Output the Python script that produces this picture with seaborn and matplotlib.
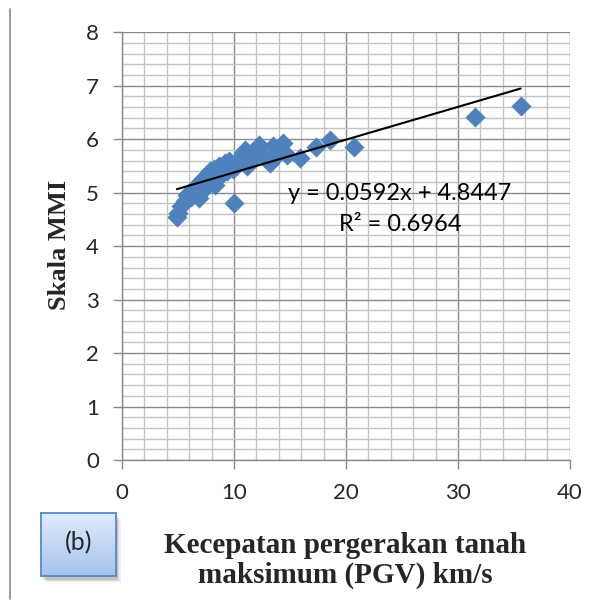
import numpy as np
import pandas as pd
import matplotlib
matplotlib.use("Agg")
import matplotlib.pyplot as plt
from matplotlib.patches import Rectangle
from matplotlib.lines import Line2D
import seaborn as sns

pgv = [4.9, 5.0, 5.3, 5.6, 5.8, 6.0, 6.2, 6.4, 6.6, 6.8, 6.9, 7.0, 7.2, 7.4, 7.5,
       7.7, 7.9, 8.0, 8.2, 8.3, 8.5, 8.7, 8.9, 9.0, 9.2, 9.4, 9.6, 9.9, 10.0, 10.2,
       10.5, 10.8, 11.0, 11.2, 11.5, 11.8, 12.2, 12.5, 13.0, 13.2, 13.5, 14.0, 14.4,
       14.7, 15.9, 17.3, 18.6, 20.7, 31.5, 35.6]
mmi = [4.55, 4.62, 4.75, 4.85, 4.95, 5.00, 4.92, 5.05, 5.12, 5.00, 4.90, 5.20, 5.25, 5.30, 5.10,
       5.35, 5.40, 5.20, 5.45, 5.15, 5.30, 5.50, 5.35, 5.50, 5.55, 5.40, 5.60, 5.45, 4.80, 5.50,
       5.65, 5.75, 5.80, 5.50, 5.60, 5.70, 5.90, 5.70, 5.60, 5.55, 5.88, 5.75, 5.92,
       5.70, 5.64, 5.86, 5.98, 5.86, 6.42, 6.62]
x_ticks = [0, 10, 20, 30, 40]
y_ticks = [0, 1, 2, 3, 4, 5, 6, 7, 8]
eq_text = "y = 0.0592x + 4.8447"
r2_text = "R² = 0.6964"

df = pd.DataFrame({"PGV": pgv, "MMI": mmi})

sns.set_theme(style="white")
plt.rcParams["font.family"] = ["Lato", "DejaVu Sans"]

fig = plt.figure(figsize=(5.98, 6.08), dpi=100)
ax = fig.add_axes([0.204, 0.2434, 0.749, 0.7036])

sns.scatterplot(data=df, x="PGV", y="MMI", ax=ax, marker="D", s=105,
                color="#4F81BD", edgecolor="#4F81BD", linewidth=0, zorder=3)
sns.regplot(data=df, x="PGV", y="MMI", ax=ax, scatter=False, ci=None,
            color="black", line_kws={"lw": 1.5, "zorder": 4})

ax.set_xlim(0, 40)
ax.set_ylim(0, 8)
ax.set_xticks(x_ticks)
ax.set_yticks(y_ticks)
ax.set_xticks(np.arange(0, 41, 2), minor=True)
ax.set_yticks(np.arange(0, 8.01, 0.2), minor=True)
ax.grid(which="major", color="#8a8a8a", lw=1.0, zorder=0)
ax.grid(which="minor", color="#c4c4c4", lw=1.0, zorder=0)
ax.set_axisbelow(True)
for s in ["top", "right"]:
    ax.spines[s].set_visible(False)
for s in ["left", "bottom"]:
    ax.spines[s].set_color("#8a8a8a")
    ax.spines[s].set_linewidth(1.0)
ax.tick_params(axis="both", which="major", labelsize=16, length=6.5, width=1,
               color="#8a8a8a", direction="out", left=True, bottom=True, pad=10)
ax.tick_params(axis="both", which="minor", length=0)

ax.set_xlabel("")
ax.set_ylabel("")
fig.text(0.10, 0.597, "Skala MMI", rotation=90, ha="center", va="center",
         family="Liberation Serif", fontweight="bold", fontsize=19)
fig.text(0.577, 0.078, "Kecepatan pergerakan tanah\nmaksimum (PGV) km/s",
         ha="center", va="center", family="Liberation Serif",
         fontweight="bold", fontsize=21, linespacing=1.1)

fig.text(0.669, 0.682, eq_text, ha="center", va="center", fontsize=17, color="black")
fig.text(0.669, 0.630, r2_text, ha="center", va="center", fontsize=17, color="black")

# "(b)" box with shadow and gradient fill
bx, by, bw, bh = 0.0686, 0.0526, 0.125, 0.104
for i, (dx, dy, a) in enumerate([(0.008, -0.010, 0.12), (0.006, -0.008, 0.18), (0.004, -0.006, 0.25)]):
    fig.patches.append(Rectangle((bx + dx, by + dy), bw, bh, transform=fig.transFigure,
                                 facecolor="#808080", edgecolor="none", alpha=a, zorder=1))
bax = fig.add_axes([bx, by, bw, bh], zorder=2)
grad = np.linspace(0, 1, 100).reshape(-1, 1)
cmap = matplotlib.colors.LinearSegmentedColormap.from_list("g", ["#e0ebfc", "#a6c3f0"])
bax.imshow(grad, aspect="auto", cmap=cmap, extent=[0, 1, 0, 1], origin="upper")
bax.set_xticks([])
bax.set_yticks([])
for sp in bax.spines.values():
    sp.set_color("#5b87c9")
    sp.set_linewidth(1.3)
bax.text(0.5, 0.52, "(b)", transform=bax.transAxes, ha="center", va="center", fontsize=18)

fig.add_artist(Line2D([0.016, 0.016], [0.015, 0.985], transform=fig.transFigure,
                      color="#8a8a8a", lw=1.2))

fig.savefig("out.png", dpi=100)
